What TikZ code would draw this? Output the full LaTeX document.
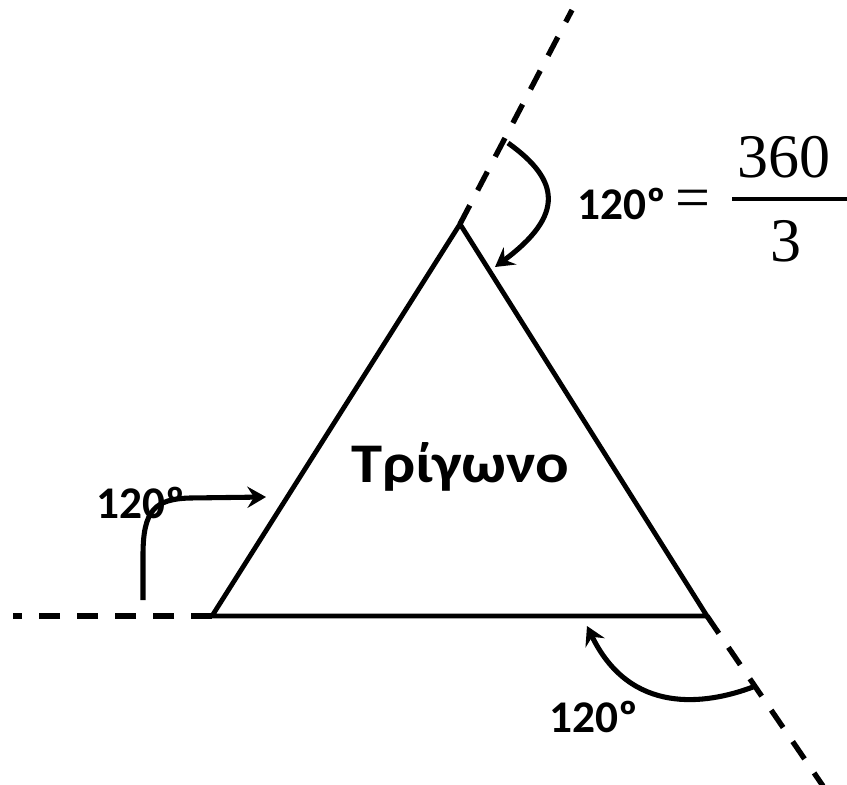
\documentclass[tikz,border=0pt]{standalone}
\usepackage{fontspec}
\setmainfont{Carlito}
\newfontfamily\widegreek[FakeStretch=1.12]{Carlito}
\newfontfamily\serifnum{Liberation Serif}
\usetikzlibrary{arrows.meta}
\tikzset{
  side/.style={line width=3.6pt},
  ext/.style={line width=4pt, dash pattern=on 15.75pt off 12.75pt},
  turn/.style={line width=3.8pt, -{Stealth[length=14pt,width=16pt,inset=5pt]}},
  deg/.style={font=\fontsize{34}{38}\selectfont\bfseries, inner sep=0pt, anchor=base west},
  big/.style={font=\fontsize{46.5}{50}\selectfont\serifnum, inner sep=0pt, anchor=base},
}
\begin{document}
\begin{tikzpicture}[x=0.75pt,y=-0.75pt]
\useasboundingbox (0,0) rectangle (847,785);
% vertices
\coordinate (L) at (212,616);
\coordinate (T) at (460,224);
\coordinate (R) at (707,616);
% dashed extensions
\coordinate (Lend) at (13,616);
\coordinate (Tend) at (572,10);
\coordinate (Rend) at (823,786);
\draw[ext] (L) -- (Lend);
\draw[ext] (T) -- (Tend);
\draw[ext] (R) -- (Rend);
% triangle
\draw[side] (L) -- (T) -- (R) -- cycle;
% labels
\node[font=\fontsize{42}{45}\selectfont\widegreek\bfseries, inner sep=0pt, anchor=base west] (name) at (351,482) {Τρίγωνο};
\node[deg] (d1) at (577,219) {120º};
\node[deg] (d2) at (96,518) {120º};
\node[deg] (d3) at (549,732) {120º};
\node[big] (eq) at (693,218) {=};
\node[big] (num) at (784,177) {360};
\node[big] (den) at (786,261) {3};
\draw[line width=2.3pt] (732,199) -- (847,199);
% arrows
\coordinate (a1s) at (508,143);
\coordinate (a1e) at (495,267);
\draw[turn] (a1s) .. controls (560,180) and (565,215) .. (a1e);
\coordinate (a2s) at (143,600);
\coordinate (a2e) at (266,497);
\draw[turn] (a2s) -- (143,555) .. controls (143,510) and (155,499) .. (190,498) -- (a2e);
\coordinate (a3s) at (753,687);
\coordinate (a3e) at (587,626);
\draw[turn] (a3s) .. controls (705,705) and (630,715) .. (a3e);
\end{tikzpicture}
\end{document}
